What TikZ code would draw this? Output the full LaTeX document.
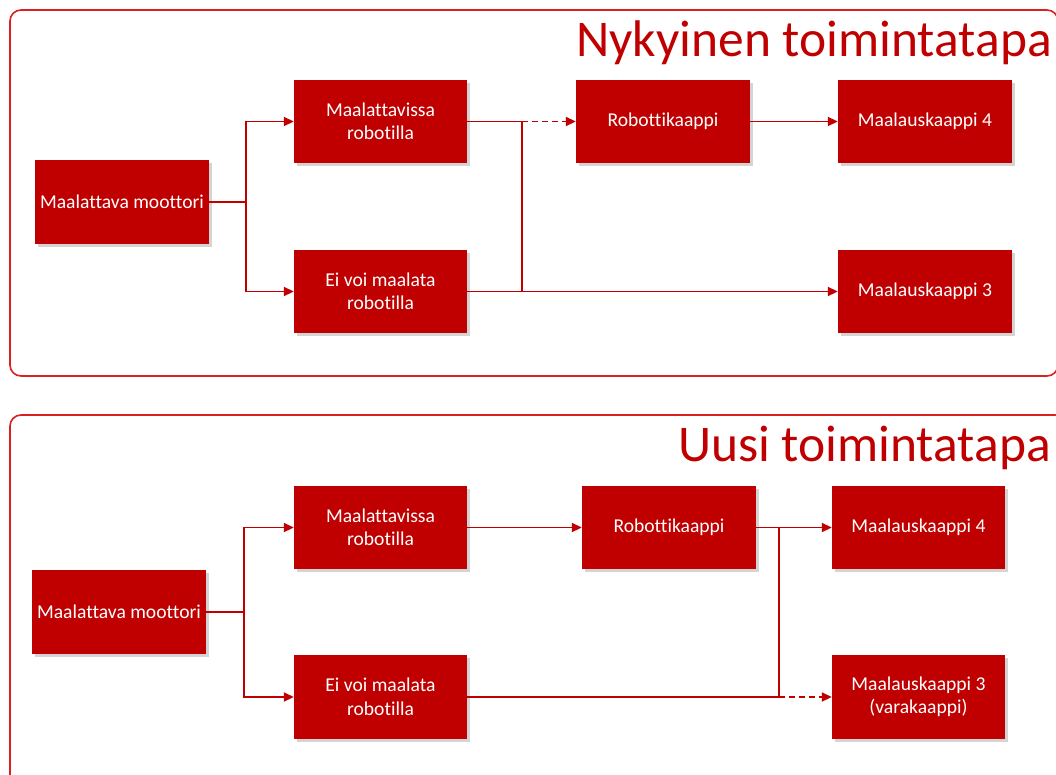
\documentclass[tikz,border=0pt]{standalone}
\usepackage{fontspec}
\setmainfont{Carlito}[Ligatures={NoCommon}]
\usetikzlibrary{arrows.meta,shadows}
\definecolor{boxred}{RGB}{192,0,0}
\definecolor{framered}{RGB}{218,32,32}
\tikzset{
  stepbox/.style={rectangle, fill=boxred, text=white, align=center,
    minimum width=173pt, minimum height=83pt, inner sep=0pt,
    font=\fontsize{19.6}{23.5}\selectfont,
    drop shadow={shadow xshift=2.5pt, shadow yshift=-2.5pt, opacity=0.28, fill=black!60}},
  conn/.style={draw=boxred, line width=1.8pt},
  arr/.style={conn, -{Triangle[length=10pt, width=9pt]}},
  dashline/.style={dash pattern=on 6pt off 4pt},
  frame/.style={draw=framered, line width=1.6pt, rounded corners=11pt},
  heading/.style={text=boxred, font=\fontsize{51.5}{54}\selectfont, inner sep=0pt, anchor=base east}
}
\begin{document}
\begin{tikzpicture}[x=1pt,y=-1pt]
\useasboundingbox (0,0) rectangle (1056,774);
\clip (0,0) rectangle (1056,774);

% ---- frames ----
\draw[frame] (10,10) rectangle (1058,376);
\draw[frame] (10,415) rectangle (1066,800);

% ---- headings ----
\node[heading] (t1) at (1052,56) {Nykyinen toimintatapa};
\node[heading] (t2) at (1051,461) {Uusi toimintatapa};

% ---- current process ----
\node[stepbox, minimum width=174pt, minimum height=84pt] (m1) at (122,202) {Maalattava moottori};
\node[stepbox] (a1) at (380.5,121.5) {Maalattavissa\\robotilla};
\node[stepbox] (b1) at (380.5,291.5) {Ei voi maalata\\robotilla};
\node[stepbox, minimum width=174pt] (r1) at (663,121.5) {Robottikaappi};
\node[stepbox, minimum width=174pt] (k41) at (925,121.5) {Maalauskaappi 4};
\node[stepbox, minimum width=174pt] (k31) at (925,291.5) {Maalauskaappi 3};

\coordinate (j1) at (246,202);
\coordinate (j2) at (522,121.5);
\draw[conn] (m1.east) -- (j1);
\draw[arr] (j1) |- (a1.west);
\draw[arr] (j1) |- (b1.west);
\draw[conn] (a1.east) -- (j2);
\draw[arr, dashline] (j2) -- (r1.west);
\draw[conn] (j2) -- (j2 |- b1.east);
\draw[arr] (b1.east) -- (k31.west);
\draw[arr] (r1.east) -- (k41.west);

% ---- new process ----
\node[stepbox, minimum width=174pt, minimum height=84pt] (m2) at (119,612) {Maalattava moottori};
\node[stepbox] (a2) at (380.5,527.5) {Maalattavissa\\robotilla};
\node[stepbox, minimum height=84pt] (b2) at (380.5,697) {Ei voi maalata\\robotilla};
\node[stepbox, minimum width=174pt] (r2) at (669,527.5) {Robottikaappi};
\node[stepbox] (k42) at (918.5,527.5) {Maalauskaappi 4};
\node[stepbox, minimum height=84pt] (k32) at (918.5,697) {Maalauskaappi 3\\(varakaappi)};

\coordinate (j3) at (244,612);
\coordinate (j4) at (779,527.5);
\coordinate (j5) at (779,697);
\draw[conn] (m2.east) -- (j3);
\draw[arr] (j3) |- (a2.west);
\draw[arr] (j3) |- (b2.west);
\draw[arr] (a2.east) -- (r2.west);
\draw[arr] (r2.east) -- (k42.west);
\draw[conn] (j4) -- (j5);
\draw[conn] (b2.east) -- (j5);
\draw[arr, dashline] (j5) -- (k32.west);
\end{tikzpicture}
\end{document}
